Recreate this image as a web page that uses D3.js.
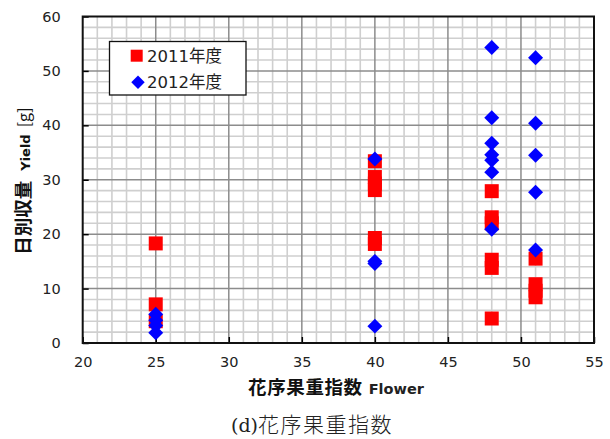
<!DOCTYPE html>
<html>
<head>
<meta charset="utf-8">
<script src="https://cdn.jsdelivr.net/npm/d3@7"></script>
<style>
  html, body { margin: 0; padding: 0; background: #fff; }
  svg { display: block; }
</style>
</head>
<body>
<svg id="chart" width="610" height="439"></svg>
<script>
// Flower index (x) vs. daily yield (y), two seasons
const series2011X = [25, 25, 25, 40, 40, 40, 40, 40, 40, 48, 48, 48, 48, 48, 48, 51, 51, 51, 51];
const series2011Y = [18.3, 7.1, 4.0, 33.4, 30.5, 29.3, 28.1, 19.3, 18.2, 27.9, 23.1, 22.0, 15.3, 13.8, 4.5, 15.5, 10.8, 9.6, 8.4];

const series2012X = [25, 25, 25, 25, 40, 40, 40, 40, 48, 48, 48, 48, 48, 48, 48, 51, 51, 51, 51, 51];
const series2012Y = [5.3, 4.2, 3.2, 1.9, 33.8, 15.0, 14.6, 3.1, 54.3, 41.4, 36.7, 34.6, 33.6, 31.4, 20.9, 52.4, 40.4, 34.5, 27.7, 17.1];

const seriesNames = ["2011年度", "2012年度"];
const xTicks = [20, 25, 30, 35, 40, 45, 50, 55];
const yTicks = [0, 10, 20, 30, 40, 50, 60];

const svg = d3.select("#chart");
const plotL = 82.7, plotR = 594, plotT = 16.5, plotB = 343;

const x = d3.scaleLinear().domain([20, 55]).range([plotL, plotR]);
const y = d3.scaleLinear().domain([0, 60]).range([plotB, plotT]);

// plot background
svg.append("rect").attr("x", plotL).attr("y", plotT)
  .attr("width", plotR - plotL).attr("height", plotB - plotT).attr("fill", "#fff");

// minor gridlines: every 1 on x, every 2 on y
const grid = svg.append("g");
grid.selectAll("line.vx").data(d3.range(21, 55).filter(v => v % 5 !== 0)).join("line")
  .attr("x1", d => x(d)).attr("x2", d => x(d)).attr("y1", plotT).attr("y2", plotB)
  .attr("stroke", "#cfcfcf").attr("stroke-width", 1.6);
grid.selectAll("line.hy").data(d3.range(2, 60, 2).filter(v => v % 10 !== 0)).join("line")
  .attr("x1", plotL).attr("x2", plotR).attr("y1", d => y(d)).attr("y2", d => y(d))
  .attr("stroke", "#cfcfcf").attr("stroke-width", 1.6);
// major gridlines
grid.selectAll("line.mx").data(xTicks.slice(1, -1)).join("line")
  .attr("x1", d => x(d)).attr("x2", d => x(d)).attr("y1", plotT).attr("y2", plotB)
  .attr("stroke", "#8c8c8c").attr("stroke-width", 1.5);
grid.selectAll("line.my").data(yTicks.slice(1, -1)).join("line")
  .attr("x1", plotL).attr("x2", plotR).attr("y1", d => y(d)).attr("y2", d => y(d))
  .attr("stroke", "#8c8c8c").attr("stroke-width", 1.5);

// axes with inward ticks
const xAxis = svg.append("g").attr("transform", `translate(0,${plotB})`)
  .call(d3.axisBottom(x).tickValues(xTicks).tickSizeInner(-6).tickSizeOuter(0).tickPadding(14));
const yAxis = svg.append("g").attr("transform", `translate(${plotL},0)`)
  .call(d3.axisLeft(y).tickValues(yTicks).tickSizeInner(-6).tickSizeOuter(0).tickPadding(22));
[xAxis, yAxis].forEach(g => {
  g.select(".domain").remove();
  g.selectAll(".tick line").attr("stroke", "#000").attr("stroke-width", 1.5);
  g.selectAll(".tick text").attr("font-family", "DejaVu Sans, sans-serif")
    .attr("font-size", 14.5).attr("fill", "#222");
});

// plot frame
svg.append("rect").attr("x", plotL).attr("y", plotT)
  .attr("width", plotR - plotL).attr("height", plotB - plotT)
  .attr("fill", "none").attr("stroke", "#111").attr("stroke-width", 2);

// markers
const squareSym = d3.symbol().type(d3.symbolSquare).size(196);
const diamondSym = d3.symbol().type(d3.symbolSquare).size(112);

svg.append("g").selectAll("path").data(series2011X.map((v, i) => [v, series2011Y[i]])).join("path")
  .attr("d", squareSym)
  .attr("transform", d => `translate(${x(d[0])},${y(d[1])})`)
  .attr("fill", "#ff0000");

svg.append("g").selectAll("path").data(series2012X.map((v, i) => [v, series2012Y[i]])).join("path")
  .attr("d", diamondSym)
  .attr("transform", d => `translate(${x(d[0])},${y(d[1])}) rotate(45)`)
  .attr("fill", "#0000ff");

// legend
const lg = svg.append("g");
lg.append("rect").attr("x", 109.5).attr("y", 41.5).attr("width", 136.5).attr("height", 53.5)
  .attr("fill", "#fff").attr("stroke", "#111").attr("stroke-width", 1.3);
lg.append("path").attr("d", d3.symbol().type(d3.symbolSquare).size(144))
  .attr("transform", "translate(136.7,55.7)").attr("fill", "#ff0000");
lg.append("path").attr("d", d3.symbol().type(d3.symbolSquare).size(90))
  .attr("transform", "translate(138,82.3) rotate(45)").attr("fill", "#0000ff");
lg.selectAll("text").data(seriesNames).join("text")
  .attr("x", 147).attr("y", (d, i) => 61.5 + i * 26.5)
  .attr("font-family", "DejaVu Sans, Noto Sans CJK JP, sans-serif")
  .attr("font-size", 16.5).attr("fill", "#222").text(d => d);

// x-axis title
const xt = svg.append("text").attr("x", 336).attr("y", 394).attr("text-anchor", "middle")
  .attr("fill", "#111");
xt.append("tspan").attr("font-family", "Noto Sans CJK JP, sans-serif").attr("font-weight", "bold")
  .attr("font-size", 18.5).attr("letter-spacing", 0.6).text("花序果重指数");
xt.append("tspan").attr("font-family", "DejaVu Sans, sans-serif").attr("font-weight", "bold")
  .attr("font-size", 14.5).attr("dx", 6).attr("fill", "#222").text("Flower");

// y-axis title
const yt = svg.append("text").attr("transform", "translate(30,181) rotate(-90)")
  .attr("text-anchor", "middle").attr("fill", "#111");
yt.append("tspan").attr("font-family", "Noto Sans CJK JP, sans-serif").attr("font-weight", "bold")
  .attr("font-size", 18.5).text("日別収量");
yt.append("tspan").attr("font-family", "DejaVu Sans, sans-serif").attr("font-weight", "bold")
  .attr("font-size", 13).attr("dx", 10).text("Yield");
yt.append("tspan").attr("font-family", "Noto Sans CJK JP, sans-serif")
  .attr("font-size", 16).attr("dx", 7).text("[g]");

// caption
const cap = svg.append("text").attr("x", 312).attr("y", 432).attr("text-anchor", "middle")
  .attr("font-size", 21).attr("fill", "#222");
cap.append("tspan").attr("font-family", "DejaVu Serif, serif").attr("font-size", 19).text("(d)");
cap.append("tspan").attr("font-family", "Noto Sans CJK JP, sans-serif").attr("font-weight", 300)
  .attr("letter-spacing", 1.5).text("花序果重指数");
</script>
</body>
</html>
